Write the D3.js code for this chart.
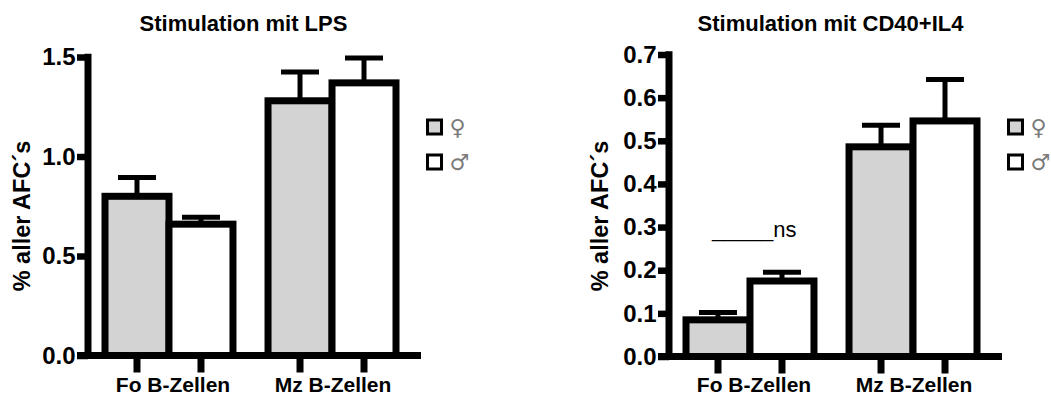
<!DOCTYPE html>
<html>
<head>
<meta charset="utf-8">
<script src="https://cdn.jsdelivr.net/npm/d3@7"></script>
<style>
  body { margin: 0; background: #fff; }
  text { font-family: "Liberation Sans", Arial, sans-serif; }
</style>
</head>
<body>
<svg id="chart" width="1051" height="397"></svg>
<script>
// data
let groups = ['Fo B-Zellen', 'Mz B-Zellen'];
let sexes = ['f', 'm'];
let sexSymbols = ['\u2640', '\u2642'];
let sexFills = ['#d3d3d3', '#ffffff'];

let lpsFemale = [0.80, 1.28],
    lpsMale = [0.66, 1.37],
    lpsFemaleSem = [0.095, 0.145],
    lpsMaleSem = [0.035, 0.125],
    lpsTicks = [0, 0.5, 1.0, 1.5];

let cdFemale = [0.085, 0.486],
    cdMale = [0.175, 0.546],
    cdFemaleSem = [0.017, 0.05],
    cdMaleSem = [0.02, 0.096],
    cdTicks = [0, 0.1, 0.2, 0.3, 0.4, 0.5, 0.6, 0.7];

let svg = d3.select('#chart');

let toRows = function (female, male, femaleSem, maleSem) {
  let rows = [];
  groups.forEach(function (g, i) {
    rows.push({ group: g, sex: 'f', value: female[i], sem: femaleSem[i] });
    rows.push({ group: g, sex: 'm', value: male[i], sem: maleSem[i] });
  });
  return rows;
}

let drawPanel = function (p) {
  let g = svg.append('g').attr('transform', 'translate(' + p.axisX + ',0)');

  let y = d3.scaleLinear()
    .domain([0, p.max])
    .range([p.y0, p.yTop]);

  let xg = d3.scaleBand()
    .domain(groups)
    .range([17, 308])
    .paddingInner(0.215);

  let xs = d3.scaleBand()
    .domain(sexes)
    .range([0, xg.bandwidth()]);

  let rows = p.rows;

  // error bars (upper only)
  let err = g.append('g');
  rows.forEach(function (d) {
    let cx = xg(d.group) + xs(d.sex) + xs.bandwidth() / 2;
    err.append('line')
      .attr('x1', cx).attr('x2', cx)
      .attr('y1', y(d.value)).attr('y2', y(d.value + d.sem))
      .attr('stroke', '#000').attr('stroke-width', 5);
    err.append('line')
      .attr('x1', cx - 19).attr('x2', cx + 19)
      .attr('y1', y(d.value + d.sem)).attr('y2', y(d.value + d.sem))
      .attr('stroke', '#000').attr('stroke-width', 5);
  });

  g.selectAll('.bar')
    .data(rows)
    .enter()
    .append('rect')
    .attr('class', 'bar')
    .attr('x', function (d) { return xg(d.group) + xs(d.sex); })
    .attr('y', function (d) { return y(d.value); })
    .attr('width', xs.bandwidth())
    .attr('height', function (d) { return p.y0 - y(d.value); })
    .attr('fill', function (d) { return sexFills[sexes.indexOf(d.sex)]; })
    .attr('stroke', '#000')
    .attr('stroke-width', 7);

  // y axis
  let yAxis = d3.axisLeft(y)
    .tickValues(p.ticks)
    .tickFormat(d3.format('.1f'))
    .tickSizeInner(11)
    .tickSizeOuter(0)
    .tickPadding(1.5);

  let ya = g.append('g').call(yAxis);
  ya.select('.domain').remove();
  ya.selectAll('.tick line').attr('stroke', '#000').attr('stroke-width', 6.5);
  ya.selectAll('.tick text')
    .attr('fill', '#000')
    .style('font-size', '24px')
    .style('font-weight', 'bold')
    .style('font-family', '"Liberation Sans", Arial, sans-serif');

  g.append('line')
    .attr('x1', 0).attr('x2', 0)
    .attr('y1', y(p.max) - 3.25).attr('y2', p.y0)
    .attr('stroke', '#000').attr('stroke-width', 7);

  // x axis
  g.append('line')
    .attr('x1', -11).attr('x2', 333)
    .attr('y1', p.y0).attr('y2', p.y0)
    .attr('stroke', '#000').attr('stroke-width', 7);

  rows.forEach(function (d) {
    let cx = xg(d.group) + xs(d.sex) + xs.bandwidth() / 2;
    g.append('line')
      .attr('x1', cx).attr('x2', cx)
      .attr('y1', p.y0).attr('y2', p.y0 + 17)
      .attr('stroke', '#000').attr('stroke-width', 7);
  });

  g.selectAll('.group-label')
    .data(groups)
    .enter()
    .append('text')
    .attr('class', 'group-label')
    .attr('x', function (d, i) { return xg(d) + xg.bandwidth() / 2 + (i === 0 ? 4 : 1); })
    .attr('y', 392)
    .attr('text-anchor', 'middle')
    .style('font-size', '21px')
    .style('font-weight', 'bold')
    .text(function (d) { return d; });

  // title
  g.append('text')
    .attr('x', p.titleDx)
    .attr('y', 31)
    .attr('text-anchor', 'middle')
    .style('font-size', '22px')
    .style('font-weight', 'bold')
    .text(p.title);

  // y label
  g.append('text')
    .attr('transform', 'translate(' + p.labelDx + ',216) rotate(-90)')
    .attr('text-anchor', 'middle')
    .style('font-size', '23.5px')
    .style('font-weight', 'bold')
    .text('% aller AFC\u00b4s');

  // legend
  let legend = g.append('g').attr('transform', 'translate(339.5,0)');
  sexes.forEach(function (s, i) {
    let ly = 120 + i * 35;
    legend.append('rect')
      .attr('x', 0).attr('y', ly)
      .attr('width', 14).attr('height', 14)
      .attr('fill', sexFills[i])
      .attr('stroke', '#000')
      .attr('stroke-width', 3);
    legend.append('text')
      .attr('x', 22).attr('y', ly + 7)
      .attr('dy', '0.36em')
      .attr('fill', '#7a7a7a')
      .style('font-family', '"DejaVu Sans", sans-serif')
      .style('font-size', '22px')
      .text(sexSymbols[i]);
  });

  return { g: g, xg: xg, y: y };
}

drawPanel({
  axisX: 88, y0: 355.5, yTop: 57, max: 1.5, ticks: lpsTicks,
  title: 'Stimulation mit LPS', titleDx: 155.5, labelDx: -58,
  rows: toRows(lpsFemale, lpsMale, lpsFemaleSem, lpsMaleSem)
});

let right = drawPanel({
  axisX: 669, y0: 356.5, yTop: 54.5, max: 0.7, ticks: cdTicks,
  title: 'Stimulation mit CD40+IL4', titleDx: 161.5, labelDx: -61,
  rows: toRows(cdFemale, cdMale, cdFemaleSem, cdMaleSem)
});

// significance note above the Fo bars
right.g.append('text')
  .attr('x', right.xg('Fo B-Zellen') + 26)
  .attr('y', 237)
  .style('font-size', '22px')
  .text('_____ns');
</script>
</body>
</html>
